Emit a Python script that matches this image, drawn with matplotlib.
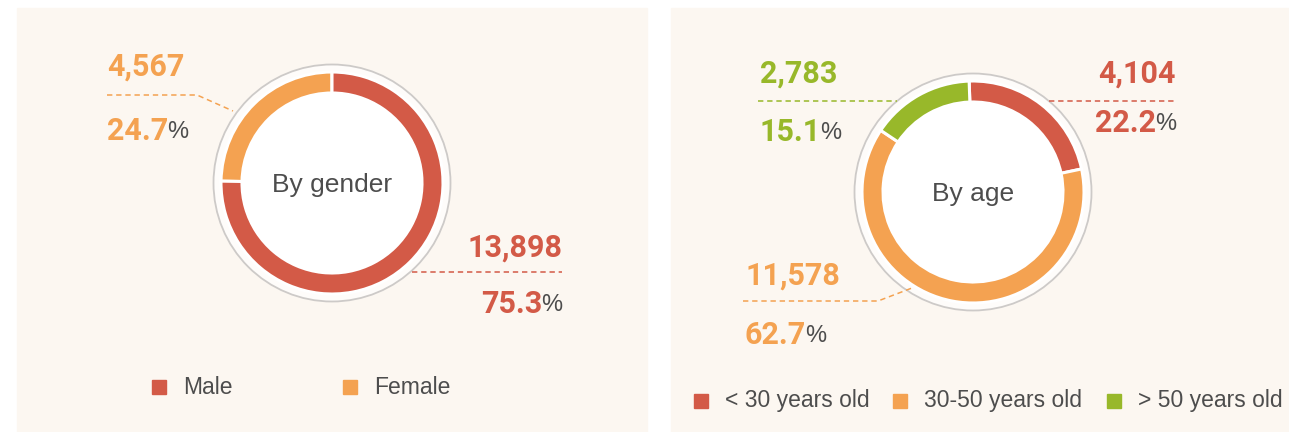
import matplotlib.pyplot as plt
from matplotlib.patches import Rectangle, Circle

# data
gender_labels = ["Male", "Female"]
gender_values = [13898, 4567]
gender_pct = [75.3, 24.7]

age_labels = ["< 30 years old", "30-50 years old", "> 50 years old"]
age_values = [4104, 11578, 2783]
age_pct = [22.2, 62.7, 15.1]

RED = '#d35a47'
ORANGE = '#f4a251'
GREEN = '#98b82a'
BG = '#fcf7f1'
GREY_TXT = '#4d4d4d'

W, H = 1289, 432

fig = plt.figure(figsize=(W / 100, H / 100), dpi=100)
ax = fig.add_axes([0, 0, 1, 1])


def Y(y):
    # pixel rows counted from the top
    return H - y


# panels
ax.add_patch(Rectangle((17, 0), 630, H - 8, color=BG, zorder=0))
ax.add_patch(Rectangle((671, 0), W - 671, H - 8, color=BG, zorder=0))


def donut(cx, cy, values, colors, start, ccw, title):
    ax.add_patch(Circle((cx, Y(cy)), 118.5, facecolor='#fefcfa',
                        edgecolor='#cdcac8', lw=1.3, zorder=0.6))
    ax.add_patch(Circle((cx, Y(cy)), 95, color='white', zorder=0.7))
    ax.pie(values, colors=colors, center=(cx, Y(cy)), radius=111,
           startangle=start, counterclock=ccw,
           wedgeprops=dict(width=21, edgecolor='white', linewidth=2.2))
    ax.text(cx, Y(cy + 2), title, ha='center', va='center', fontsize=19,
            family='Liberation Sans', color=GREY_TXT)


def dashed(xs, ys, color):
    ax.plot(xs, [Y(v) for v in ys], color=color, lw=1.1,
            dashes=(3.5, 2.5), zorder=3)


renderer = fig.canvas.get_renderer()


def number(x, base, txt, color, ha='left'):
    ax.text(x, Y(base), txt, ha=ha, va='baseline', fontsize=22,
            fontweight='bold', family='Roboto', color=color)


def percent(x, base, val, color, ha='left'):
    if ha == 'left':
        t = ax.text(x, Y(base), f"{val:.1f}", ha='left', va='baseline',
                    fontsize=22, fontweight='bold', family='Roboto', color=color)
        w = t.get_window_extent(renderer=renderer).width
        ax.text(x + w - 1, Y(base - 2), "%", ha='left', va='baseline',
                fontsize=17, family='Liberation Sans', color=GREY_TXT)
    else:
        p = ax.text(x, Y(base - 2), "%", ha='right', va='baseline',
                    fontsize=17, family='Liberation Sans', color=GREY_TXT)
        w = p.get_window_extent(renderer=renderer).width
        ax.text(x - w + 1, Y(base), f"{val:.1f}", ha='right', va='baseline',
                fontsize=22, fontweight='bold', family='Roboto', color=color)


# By gender
donut(332, 183, gender_values[::-1], [ORANGE, RED], 90, True, "By gender")
number(107, 76, f"{gender_values[1]:,}", ORANGE)
dashed([107, 197, 233], [95, 95, 111], ORANGE)
percent(107, 140, gender_pct[1], ORANGE)
number(562, 257, f"{gender_values[0]:,}", RED, ha='right')
dashed([412, 562], [272, 272], RED)
percent(562, 313, gender_pct[0], RED, ha='right')

# By age
donut(973, 192, age_values, [RED, ORANGE, GREEN], 92, False, "By age")
number(760, 83, f"{age_values[2]:,}", GREEN)
dashed([758, 897], [101, 101], GREEN)
percent(760, 141, age_pct[2], GREEN)
number(1176, 83, f"{age_values[0]:,}", RED, ha='right')
dashed([1049, 1176], [101, 101], RED)
percent(1176, 132, age_pct[0], RED, ha='right')
number(745, 285, f"{age_values[1]:,}", ORANGE)
dashed([743, 878, 912], [301, 301, 288], ORANGE)
percent(745, 344, age_pct[1], ORANGE)


# legends
def legend_item(x, y, color, label):
    ax.add_patch(Rectangle((x, Y(y) - 7), 14, 14, color=color, zorder=3))
    ax.text(x + 31, Y(y), label, ha='left', va='center', fontsize=16.5,
            family='Liberation Sans', color=GREY_TXT)


for x, c, lab in zip([152, 343], [RED, ORANGE], gender_labels):
    legend_item(x, 387, c, lab)
for x, c, lab in zip([694, 893, 1107], [RED, ORANGE, GREEN], age_labels):
    legend_item(x, 401, c, lab)

ax.set_xlim(0, W)
ax.set_ylim(0, H)
ax.set_aspect('auto')
ax.axis('off')

fig.savefig('out.png', dpi=100, facecolor='white')
